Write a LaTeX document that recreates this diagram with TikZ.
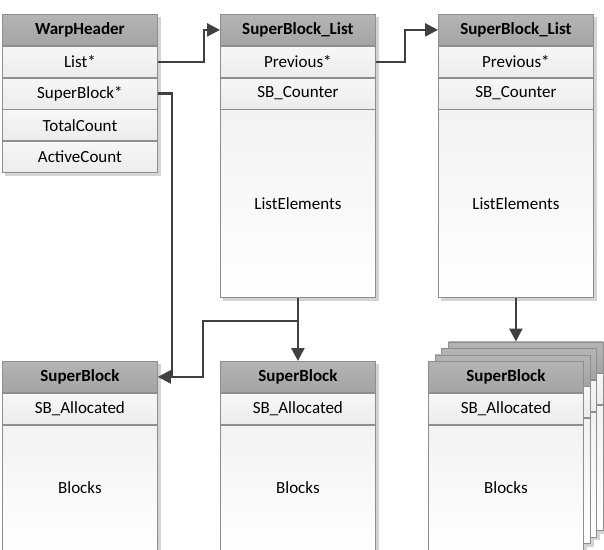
\documentclass[tikz,border=0pt]{standalone}
\usepackage{fontspec}
\setmainfont{Carlito}
\usetikzlibrary{arrows.meta,backgrounds,calc}
\definecolor{boxline}{HTML}{8E8E8E}
\definecolor{hdrtop}{HTML}{B4B4B4}
\definecolor{hdrbot}{HTML}{A4A4A4}
\definecolor{rowtop}{HTML}{F7F7F7}
\definecolor{rowbot}{HTML}{ECECEC}
\definecolor{bodytop}{HTML}{F2F2F2}
\definecolor{bodybot}{HTML}{FFFFFF}
\definecolor{linec}{HTML}{404040}
\definecolor{shadowc}{HTML}{D4D4D4}
\tikzset{
  cell/.style={draw=boxline, line width=0.8pt, minimum width=155pt, minimum height=31pt,
    inner sep=0pt, top color=rowtop, bottom color=rowbot, anchor=north west,
    font=\fontsize{17}{20}\selectfont},
  hdr/.style={cell, top color=hdrtop, bottom color=hdrbot, font=\fontsize{17}{20}\selectfont\bfseries},
  bodycell/.style={cell, top color=bodytop, bottom color=bodybot, minimum height=#1},
  link/.style={draw=linec, line width=2.4pt, -{Triangle[length=13pt,width=13pt]}},
  linkplain/.style={draw=linec, line width=2.4pt},
  shadowbox/.style={fill=shadowc}
}
\newcommand\sbbox[6]{%
  \node[hdr] (#1h) at (#2,#3) {#4};
  \node[cell] (#1a) at (#1h.south west) {#5};
  \node[bodycell=125pt] (#1b) at (#1a.south west) {#6};
  \begin{scope}[on background layer]
    \fill[shadowbox] ($(#1h.north west)+(3,3)$) rectangle ($(#1b.south east)+(3,3)$);
  \end{scope}
}
\newcommand\sblbox[4]{%
  \node[hdr] (#1h) at (#2,#3) {SuperBlock\_List};
  \node[cell] (#1p) at (#1h.south west) {Previous*};
  \node[cell] (#1c) at (#1p.south west) {SB\_Counter};
  \node[bodycell=188pt] (#1e) at (#1c.south west) {ListElements};
  \begin{scope}[on background layer]
    \fill[shadowbox] ($(#1h.north west)+(3,3)$) rectangle ($(#1e.south east)+(3,3)$);
  \end{scope}
}
\begin{document}
\begin{tikzpicture}[x=1pt,y=-1pt]
\useasboundingbox (0,0) rectangle (604,549);
% WarpHeader
\node[hdr] (wh) at (2,14) {WarpHeader};
\node[cell] (wh1) at (wh.south west) {List*};
\node[cell] (wh2) at (wh1.south west) {SuperBlock*};
\node[cell] (wh3) at (wh2.south west) {TotalCount};
\node[cell] (wh4) at (wh3.south west) {ActiveCount};
\begin{scope}[on background layer]
  \fill[shadowbox] ($(wh.north west)+(3,3)$) rectangle ($(wh4.south east)+(3,3)$);
\end{scope}
% SuperBlock lists
\sblbox{la}{220}{14}{}
\sblbox{lb}{438}{14}{}
% SuperBlocks
\sbbox{sa}{2}{361}{SuperBlock}{SB\_Allocated}{Blocks}
\sbbox{sb}{220}{361}{SuperBlock}{SB\_Allocated}{Blocks}
% stack
\sbbox{sz}{448}{341.5}{}{}{}
\sbbox{sy}{441.3}{348}{}{}{}
\sbbox{sx}{434.7}{354.5}{}{}{}
\sbbox{sc}{428}{361}{SuperBlock}{SB\_Allocated}{Blocks}
% connectors
\draw[link] (wh1.east) -- ++(46,0) |- (lah.west);
\draw[link] (lap.east) -- ++(29,0) |- (lbh.west);
\coordinate (br) at ($(lae.south)+(0,23)$);
\draw[linkplain] (br) -- ++(-95,0) |- ($(sah.east)+(14,0)$);
\draw[link] (wh2.east) -- ++(14,0) |- (sah.east);
\draw[link] (lae.south) -- (sbh.north);
\draw[link] (lbe.south) -- (lbe.south |- szh.north);
\end{tikzpicture}
\end{document}
